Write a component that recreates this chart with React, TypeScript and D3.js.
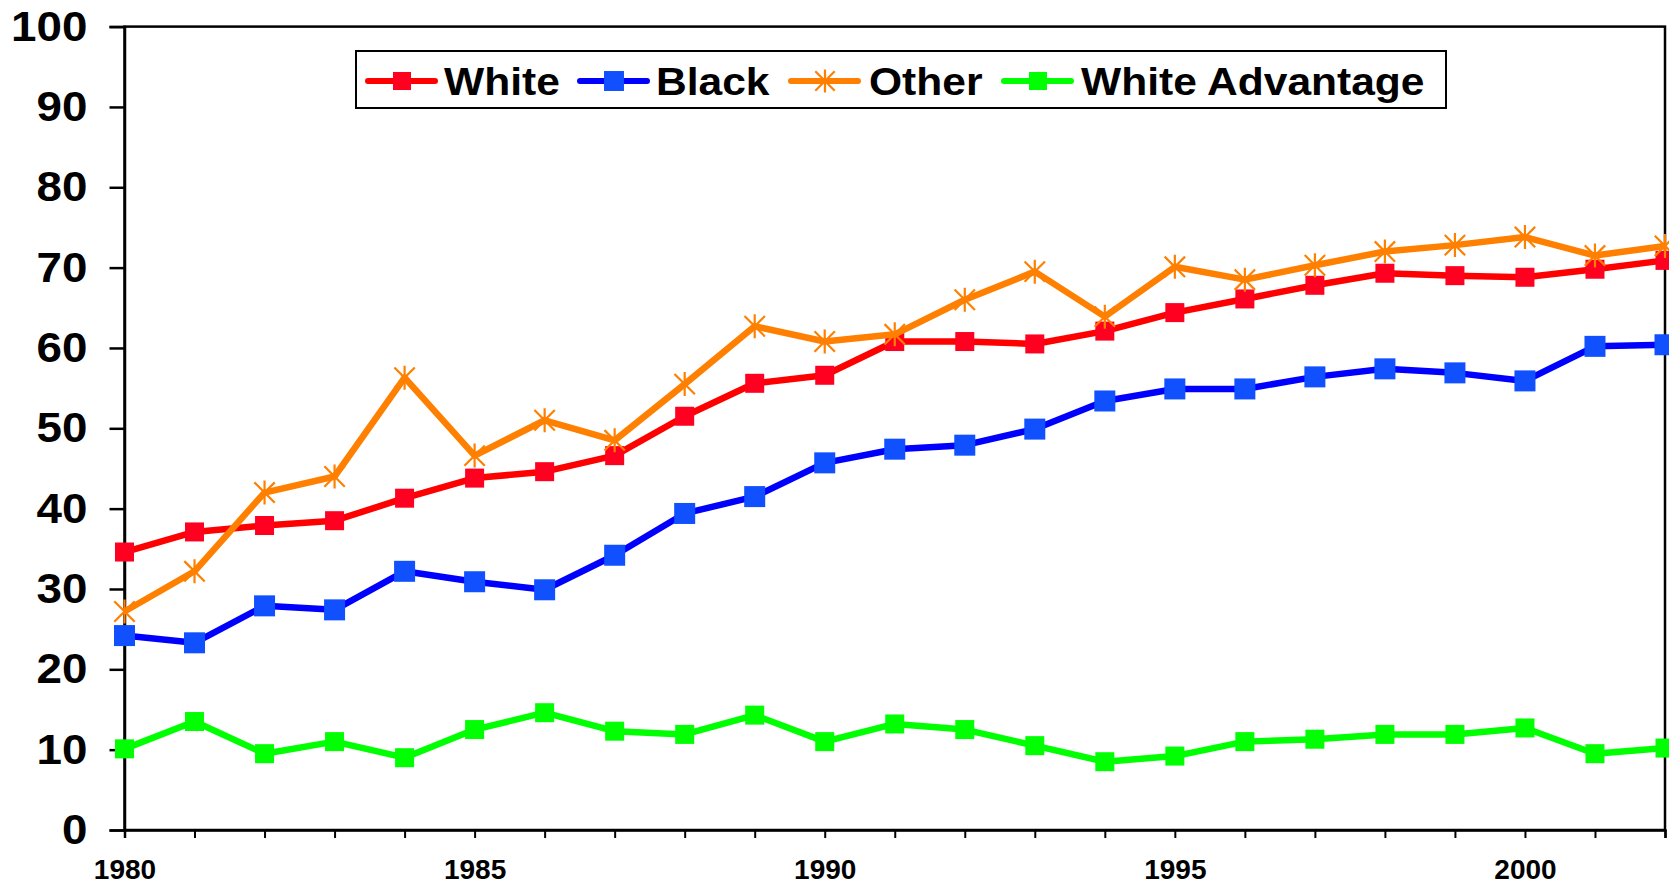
import React, {useRef, useEffect} from 'react';
import * as d3 from 'd3';

const width = 1669;
const height = 890;

const years = d3.range(1980, 2003);
const white = [34.6, 37.1, 37.9, 38.5, 41.3, 43.8, 44.6, 46.6, 51.5, 55.6, 56.6, 60.8, 60.8, 60.5, 62.1, 64.4, 66.1, 67.8, 69.3, 69.0, 68.8, 69.8, 70.9];
const black = [24.2, 23.3, 27.9, 27.4, 32.2, 30.9, 29.9, 34.2, 39.4, 41.5, 45.7, 47.4, 47.9, 49.9, 53.4, 54.9, 54.9, 56.4, 57.4, 56.9, 55.9, 60.2, 60.4];
const other = [27.2, 32.2, 42.0, 44.0, 56.3, 46.6, 51.0, 48.5, 55.5, 62.7, 60.8, 61.7, 66.0, 69.5, 63.9, 70.1, 68.5, 70.3, 72.0, 72.8, 73.8, 71.5, 72.7];
const advantage = [10.1, 13.5, 9.5, 11.0, 9.0, 12.5, 14.6, 12.3, 11.9, 14.3, 11.0, 13.2, 12.5, 10.5, 8.5, 9.2, 11.0, 11.3, 11.9, 11.9, 12.7, 9.5, 10.2];
const yTicks = [0, 10, 20, 30, 40, 50, 60, 70, 80, 90, 100];
const xLabels = [1980, 1985, 1990, 1995, 2000];

const series = [
  {name: 'White', values: white, line: '#FF0000', fill: '#FF0020', marker: 'square', size: 19},
  {name: 'Black', values: black, line: '#0000FF', fill: '#1050FF', marker: 'square', size: 21},
  {name: 'Other', values: other, line: '#FF8000', fill: '#FF8000', marker: 'star', size: 24},
  {name: 'White Advantage', values: advantage, line: '#00FF00', fill: '#00FF00', marker: 'square', size: 19},
];

const font = '"Liberation Sans", Arial, sans-serif';

const drawMarker = (g, s, cx, cy, scale = 1) => {
  const h = (s.size * scale) / 2;
  if (s.marker === 'square') {
    g.append('rect')
    .attr('x', cx - h)
    .attr('y', cy - h)
    .attr('width', h * 2)
    .attr('height', h * 2)
    .attr('fill', s.fill);
  } else {
    const d = h * 0.85;
    g.append('path')
    .attr('d', `M${cx - d},${cy - d}L${cx + d},${cy + d}M${cx - d},${cy + d}L${cx + d},${cy - d}M${cx},${cy - h}L${cx},${cy + h}`)
    .attr('stroke', s.fill)
    .attr('stroke-width', 2.2)
    .attr('fill', 'none');
  }
};

const setupChart = container => {
  const svg = d3.select(container);
  svg.selectAll('*').remove();

  const x = d3.scaleLinear().domain([1980, 2002]).range([124.5, 1665]);
  const y = d3.scaleLinear().domain([0, 100]).range([830, 26.6]);

  // plot frame
  svg
  .append('rect')
  .attr('x', x(1980))
  .attr('y', y(100))
  .attr('width', x(2002) - x(1980))
  .attr('height', y(0) - y(100))
  .attr('fill', 'none')
  .attr('stroke', 'black')
  .attr('stroke-width', 2.5);

  const yAxis = svg
  .append('g')
  .attr('transform', `translate(${x(1980)},0)`)
  .call(d3.axisLeft(y).tickValues(yTicks).tickSize(15).tickPadding(22));
  yAxis.select('.domain').attr('stroke-width', 2.5);
  yAxis.selectAll('line').attr('stroke-width', 2.5);
  yAxis
  .selectAll('text')
  .attr('x', 0)
  .attr('transform', 'translate(-37,0) scale(1.09,1)')
  .attr('font-family', font)
  .attr('font-weight', 'bold')
  .attr('font-size', 42)
  .attr('fill', 'black');

  const xAxis = svg
  .append('g')
  .attr('transform', `translate(0,${y(0)})`)
  .call(
    d3
    .axisBottom(x)
    .tickValues(years)
    .tickSize(8)
    .tickPadding(21)
    .tickFormat(d => (xLabels.includes(d) ? String(d) : '')),
  );
  xAxis.select('.domain').attr('stroke-width', 2.5);
  xAxis.selectAll('line').attr('stroke-width', 2);
  xAxis
  .selectAll('text')
  .attr('font-family', font)
  .attr('font-weight', 'bold')
  .attr('font-size', 28)
  .attr('fill', 'black');

  const line = d3
  .line()
  .x((d, i) => x(years[i]))
  .y(d => y(d));

  series.forEach(s => {
    svg
    .append('path')
    .datum(s.values)
    .attr('d', line)
    .attr('fill', 'none')
    .attr('stroke', s.line)
    .attr('stroke-width', 6.5)
    .attr('stroke-linejoin', 'round');
    const g = svg.append('g');
    s.values.forEach((v, i) => drawMarker(g, s, x(years[i]), y(v)));
  });

  // legend
  const legend = svg.append('g');
  legend
  .append('rect')
  .attr('x', 356)
  .attr('y', 51)
  .attr('width', 1090)
  .attr('height', 57)
  .attr('fill', 'white')
  .attr('stroke', 'black')
  .attr('stroke-width', 2);

  const items = [
    {lineX: 368, textX: 444},
    {lineX: 580, textX: 656},
    {lineX: 791, textX: 869},
    {lineX: 1004, textX: 1081},
  ];
  const ly = 81;
  series.forEach((s, i) => {
    const it = items[i];
    legend
    .append('line')
    .attr('x1', it.lineX)
    .attr('x2', it.lineX + 67)
    .attr('y1', ly)
    .attr('y2', ly)
    .attr('stroke', s.line)
    .attr('stroke-width', 6)
    .attr('stroke-linecap', 'round');
    drawMarker(legend, s, it.lineX + 34, ly, 0.95);
    legend
    .append('text')
    .attr('transform', `translate(${it.textX},${ly + 13.5}) scale(1.12,1)`)
    .attr('font-family', font)
    .attr('font-weight', 'bold')
    .attr('font-size', 38)
    .attr('fill', 'black')
    .text(s.name);
  });
};

export default function App() {
  const svgRef = useRef(null);
  useEffect(() => {
    if (svgRef.current) {
      setupChart(svgRef.current);
    }
  }, []);
  return (
    <svg
      ref={svgRef}
      width={width}
      height={height}
      style={{position: 'absolute', left: 0, top: 0, background: 'white'}}
    />
  );
}
